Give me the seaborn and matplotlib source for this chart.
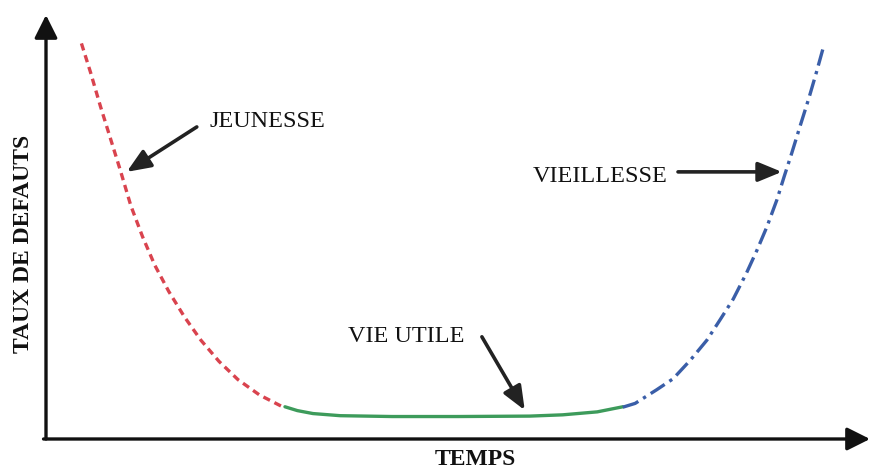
import numpy as np
import pandas as pd
import seaborn as sns
import matplotlib.pyplot as plt

# Bathtub curve (time 0-100, failure rate 0-100)
jeunesse_t = [4.3, 5.4, 6.6, 7.8, 9.0, 10.3, 11.7, 13.2, 14.9, 16.8, 18.8, 21.0, 23.3, 25.9, 28.8]
jeunesse_rate = [93.3, 86.5, 78.5, 71.0, 63.5, 55.0, 47.8, 41.0, 34.8, 28.8, 23.3, 18.3, 14.0, 10.4, 7.5]

vie_utile_t = [29.0, 30.5, 32.4, 35.7, 42.0, 50.0, 58.7, 62.7, 66.9, 70.0]
vie_utile_rate = [7.6, 6.7, 6.0, 5.5, 5.3, 5.3, 5.4, 5.7, 6.4, 7.6]

vieillesse_t = [70.0, 71.5, 74.1, 76.1, 78.2, 80.2, 81.8, 83.4, 85.0, 86.3, 87.5, 88.7, 89.6, 90.5, 91.5, 92.6, 93.5, 94.3]
vieillesse_rate = [7.5, 8.4, 11.6, 14.2, 18.6, 23.3, 28.1, 33.0, 39.1, 44.6, 50.1, 56.4, 62.0, 67.4, 73.7, 80.5, 86.5, 92.1]

# labels: (text, text position, alignment, arrow tail, arrow head)
annotations = [
    ("JEUNESSE", (19.9, 73.6), "left", (18.3, 73.6), (9.8, 63.0)),
    ("VIEILLESSE", (75.4, 60.6), "right", (76.7, 63.0), (89.3, 63.0)),
    ("VIE UTILE", (36.6, 22.9), "left", (52.9, 24.1), (58.1, 6.8)),
]

sns.set_style("white")
plt.rcParams['font.family'] = ['Liberation Serif', 'DejaVu Serif']

fig = plt.figure(figsize=(8.73, 4.70), dpi=100)
ax = fig.add_axes([46 / 873, 31 / 470, 824 / 873, 424 / 470])

jeunesse = pd.DataFrame({'t': jeunesse_t, 'rate': jeunesse_rate})
vie_utile = pd.DataFrame({'t': vie_utile_t, 'rate': vie_utile_rate})
vieillesse = pd.DataFrame({'t': vieillesse_t, 'rate': vieillesse_rate})

sns.lineplot(data=jeunesse, x='t', y='rate', ax=ax, color='#d9434e', lw=2.4,
             linestyle=(0, (2.2, 1.5)), sort=False)
sns.lineplot(data=vie_utile, x='t', y='rate', ax=ax, color='#3d9b5b', lw=2.4, sort=False)
sns.lineplot(data=vieillesse, x='t', y='rate', ax=ax, color='#3a5ea8', lw=2.4,
             linestyle=(0, (5, 1.7, 1, 1.7)), sort=False)

ax.set_xlim(0, 100)
ax.set_ylim(0, 100)
ax.set_xticks([])
ax.set_yticks([])
for s in ax.spines.values():
    s.set_visible(False)

# axes drawn as arrows
axis_arrow = dict(arrowstyle='-|>,head_length=0.7,head_width=0.35', lw=2.4,
                  color='#111111', mutation_scale=20, shrinkA=0, shrinkB=0)
ax.annotate('', xy=(1, 0), xytext=(-0.003, 0), xycoords='axes fraction',
            arrowprops=axis_arrow, annotation_clip=False)
ax.annotate('', xy=(0, 1), xytext=(0, 0), xycoords='axes fraction',
            arrowprops=axis_arrow, annotation_clip=False)

label_arrow = dict(arrowstyle='-|>,head_length=0.8,head_width=0.33', lw=2.6,
                   color='#222222', mutation_scale=18, shrinkA=0, shrinkB=0)
for text, pos, ha, tail, head in annotations:
    ax.text(pos[0], pos[1], text, ha=ha, va='baseline', fontsize=17.5, color='#111111')
    ax.annotate('', xy=head, xytext=tail, arrowprops=label_arrow)

ax.set_xlabel('TEMPS', fontsize=17, fontweight='bold', color='#111111', va='center', ha='center')
ax.xaxis.set_label_coords(0.5206, -0.0495)
ax.set_ylabel('TAUX DE DEFAUTS', fontsize=17, fontweight='bold', color='#111111', va='center', ha='center')
ax.yaxis.set_label_coords(-0.0267, 0.46)

fig.savefig('out.png', dpi=100)
